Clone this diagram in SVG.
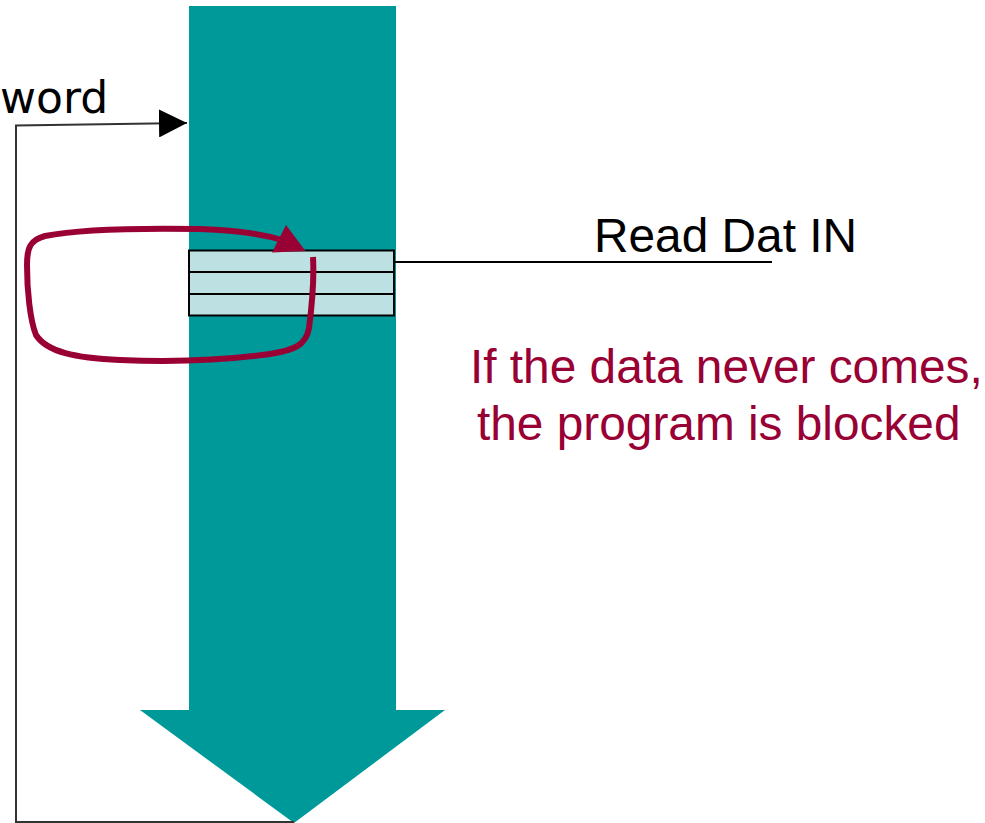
<svg xmlns="http://www.w3.org/2000/svg" width="985" height="823" viewBox="0 0 985 823">
<style>
.teal{fill:#009999}
.cell{fill:#BDE0E3;stroke:#000;stroke-width:2}
.conn{fill:none;stroke:#000;stroke-width:2}
.loop{fill:none;stroke:#990033;stroke-width:6;stroke-linecap:butt;stroke-linejoin:round}
.lbl{font-family:"Liberation Sans",Arial,sans-serif;font-size:47.8px;fill:#000}
.red{fill:#990033}
.word{font-family:"DejaVu Sans",sans-serif;font-size:44px;fill:#000}
</style>
<defs>
<marker id="ah" markerUnits="userSpaceOnUse" markerWidth="28" markerHeight="28" viewBox="0 0 26 26" refX="26" refY="13" orient="auto">
<path d="M0,0 L26,13 L0,26 Z" fill="#000"/>
</marker>
</defs>
<rect width="985" height="823" fill="#fff"/>
<g id="flow">
<path class="teal" d="M189,6 H396 V710 H445 L294,823 L140,710 H189 Z"/>
</g>
<g id="buffer">
<rect class="cell" x="189" y="250.5" width="205" height="21.5"/>
<rect class="cell" x="189" y="272" width="205" height="22"/>
<rect class="cell" x="189" y="294" width="205" height="21.5"/>
</g>
<g id="connectors">
<polyline class="conn" style="stroke:#333" points="294,822 16,822 16,125.5 187,123" marker-end="url(#ah)"/>
<line class="conn" x1="394" y1="262" x2="772" y2="262"/>
<path class="loop" d="M313,257 C314,275 312,305 309,328 C306,345 295,350 270,354 C220,361 170,362 120,360 C75,358 47,352 36,335 C30,320 27,290 27,265 C27,248 30,240 45,236 C80,229 140,228 200,229 C235,230 262,234 282,240"/>
<path d="M286,225 L305.5,251 L272,252.5 Z" fill="#990033"/>
</g>
<g id="labels">
<text class="word" x="0" y="113">word</text>
<text class="lbl" x="594" y="252">Read Dat IN</text>
<text class="lbl red" x="470" y="383">If the data never comes,</text>
<text class="lbl red" x="477" y="440">the program is blocked</text>
</g>
</svg>
